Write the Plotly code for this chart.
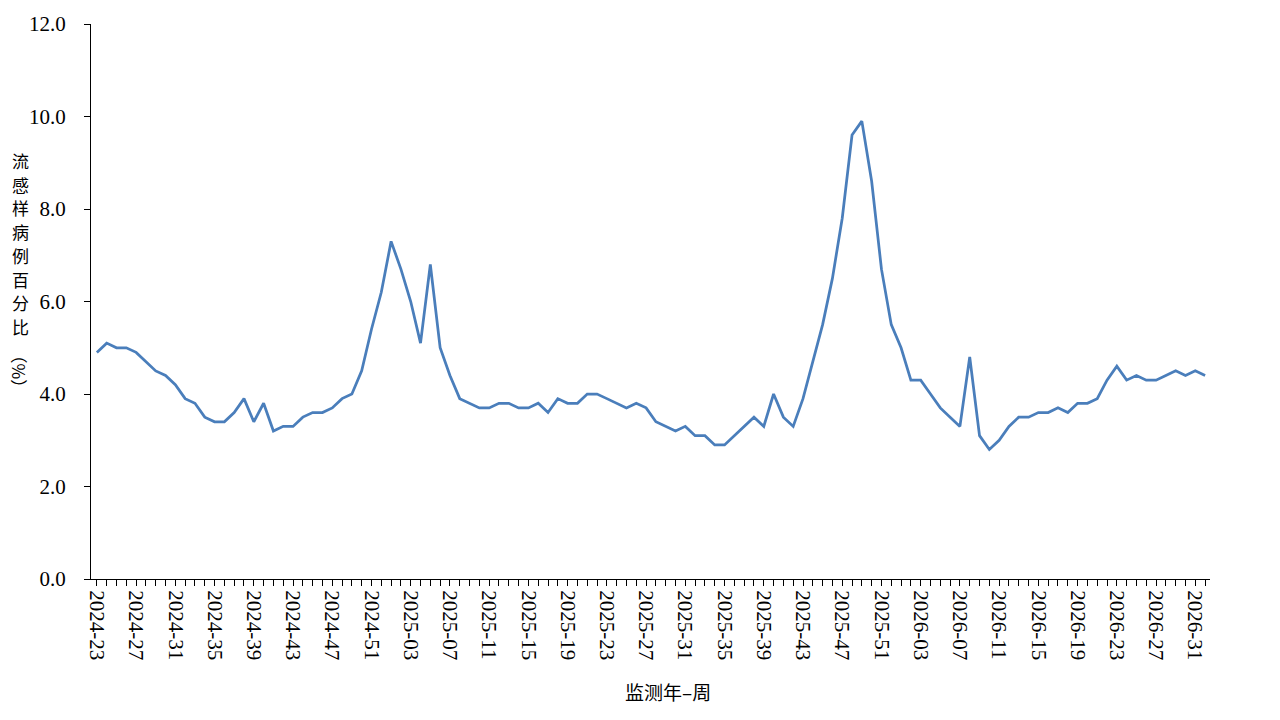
import plotly.graph_objects as go

# 监测周（2024-23 ~ 2026-32）
周次 = ([f"2024-{w:02d}" for w in range(23, 53)]
      + [f"2025-{w:02d}" for w in range(1, 53)]
      + [f"2026-{w:02d}" for w in range(1, 33)])

百分比 = [4.9, 5.1, 5.0, 5.0, 4.9, 4.7, 4.5, 4.4, 4.2, 3.9,
         3.8, 3.5, 3.4, 3.4, 3.6, 3.9, 3.4, 3.8, 3.2, 3.3,
         3.3, 3.5, 3.6, 3.6, 3.7, 3.9, 4.0, 4.5, 5.4, 6.2,
         7.3, 6.7, 6.0, 5.1, 6.8, 5.0, 4.4, 3.9, 3.8, 3.7,
         3.7, 3.8, 3.8, 3.7, 3.7, 3.8, 3.6, 3.9, 3.8, 3.8,
         4.0, 4.0, 3.9, 3.8, 3.7, 3.8, 3.7, 3.4, 3.3, 3.2,
         3.3, 3.1, 3.1, 2.9, 2.9, 3.1, 3.3, 3.5, 3.3, 4.0,
         3.5, 3.3, 3.9, 4.7, 5.5, 6.5, 7.8, 9.6, 9.9, 8.6,
         6.7, 5.5, 5.0, 4.3, 4.3, 4.0, 3.7, 3.5, 3.3, 4.8,
         3.1, 2.8, 3.0, 3.3, 3.5, 3.5, 3.6, 3.6, 3.7, 3.6,
         3.8, 3.8, 3.9, 4.3, 4.6, 4.3, 4.4, 4.3, 4.3, 4.4,
         4.5, 4.4, 4.5, 4.4]

# 每4周显示一个标签
刻度文字 = [w if i % 4 == 0 else "" for i, w in enumerate(周次)]

纵轴标题 = "流感样病例百分比"

fig = go.Figure(data=go.Scatter(x=周次, y=百分比, mode="lines",
                                line=dict(color="#4A7EBB", width=2.75)))

fig.update_xaxes(type="category", range=[-0.6, len(周次) - 0.5],
                 tickvals=周次, ticktext=刻度文字, tickangle=90,
                 ticks="outside", ticklen=6, tickcolor="black",
                 showline=True, linecolor="black", linewidth=1.2,
                 showgrid=False, zeroline=False, automargin=False,
                 tickfont=dict(family="Liberation Serif", size=21, color="black"))
fig.update_yaxes(range=[0, 12], dtick=2, tickformat=".1f",
                 ticks="outside", ticklen=6, tickcolor="black",
                 showline=True, linecolor="black", linewidth=1.2,
                 showgrid=False, zeroline=False, ticklabelstandoff=14, automargin=False,
                 tickfont=dict(family="Liberation Serif", size=21, color="black"))

# 纵轴标题逐字竖排
for i, 字 in enumerate(纵轴标题):
    fig.add_annotation(text=字, xref="paper", yref="paper",
                       x=-0.0626, y=0.754 - i * 0.0427, xanchor="center", yanchor="middle",
                       showarrow=False, borderpad=0,
                       font=dict(family="Noto Sans CJK SC", size=17, color="black"))
fig.add_annotation(text="（%）", xref="paper", yref="paper", textangle=90,
                   x=-0.064, y=0.373, xanchor="center", yanchor="middle", showarrow=False,
                   borderpad=0,
                   font=dict(family="Noto Sans CJK SC", size=17, color="black"))
fig.add_annotation(text="监测年–周", xref="paper", yref="paper",
                   x=0.5156, y=-0.2036, xanchor="center", yanchor="middle", showarrow=False,
                   font=dict(family="Noto Sans CJK SC", size=19, color="black"))

fig.update_layout(width=1280, height=720, plot_bgcolor="white", paper_bgcolor="white",
                  margin=dict(l=83, r=78, t=16, b=149), showlegend=False)
fig.write_html("out.html")
